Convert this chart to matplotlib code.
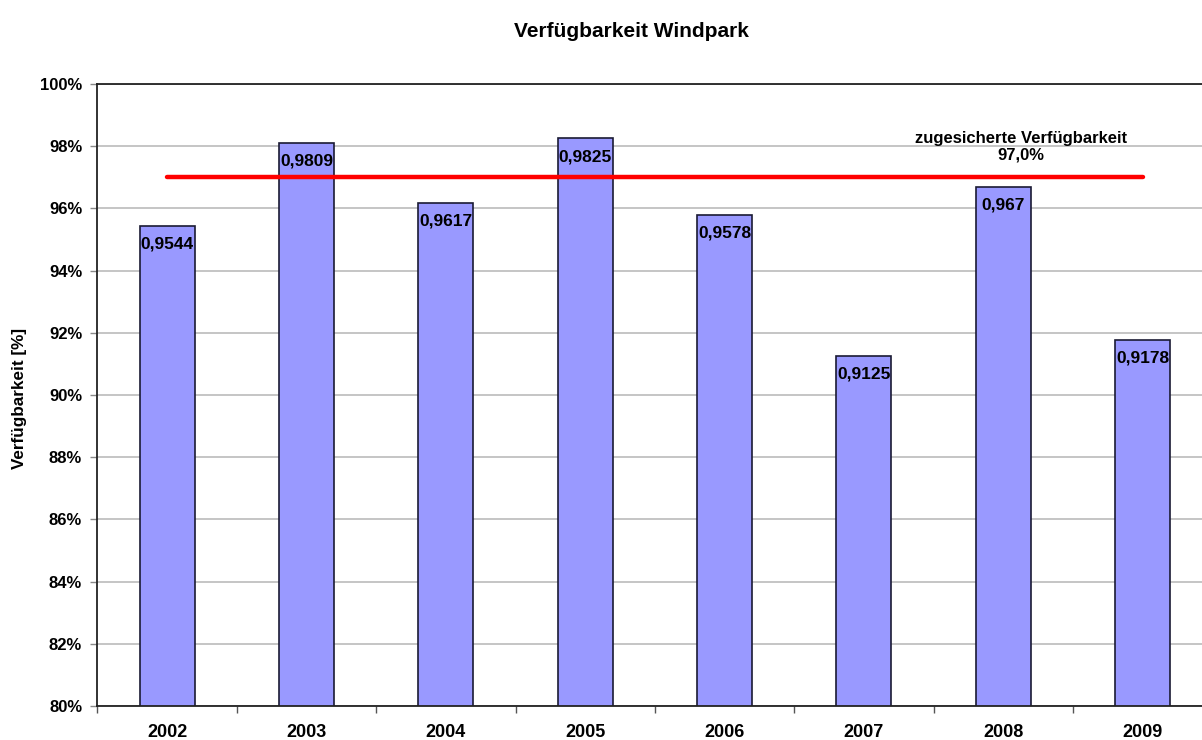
import matplotlib
matplotlib.use('Agg')
import matplotlib.pyplot as plt
import numpy as np
from matplotlib.ticker import FuncFormatter

plt.rcParams['font.family'] = ['Liberation Sans', 'DejaVu Sans']
plt.rcParams['font.weight'] = 'bold'

years = ['2002', '2003', '2004', '2005', '2006', '2007', '2008', '2009']
availability = [0.9544, 0.9809, 0.9617, 0.9825, 0.9578, 0.9125, 0.967, 0.9178]
labels = ['0,9544', '0,9809', '0,9617', '0,9825', '0,9578', '0,9125', '0,967', '0,9178']
target = 0.97

fig = plt.figure(figsize=(12.02, 7.40), dpi=100)
ax = fig.add_axes([0.0811, 0.0459, 0.9274, 0.8405])

x = np.arange(len(years))
ax.bar(x, availability, width=0.395, color='#9999FF', edgecolor='#1a1a33',
       linewidth=1.2, zorder=2)

# data labels just below the top of each bar
for xi, v, lab in zip(x, availability, labels):
    ax.text(xi, v - 0.0058, lab, ha='center', va='center', fontsize=12.5,
            fontweight='bold', color='black', zorder=4)

# guaranteed availability line
ax.plot([x[0], x[-1]], [target, target], color='#FF0000', linewidth=3.2,
        solid_capstyle='round', zorder=3)
ax.text(6.13, 0.9799, 'zugesicherte Verfügbarkeit\n97,0%', ha='center',
        va='center', fontsize=12, fontweight='bold', linespacing=1.1)

ax.set_xlim(-0.5, len(years) - 0.5)
ax.set_ylim(0.80, 1.00)
ax.set_yticks(np.arange(0.80, 1.0001, 0.02))
ax.yaxis.set_major_formatter(FuncFormatter(lambda v, p: f'{v*100:.0f}%'))
ax.set_xticks(x)
ax.set_xticklabels(years, fontsize=13, fontweight='bold')
ax.set_xticks(np.arange(-0.5, len(years), 1.0), minor=True)
ax.tick_params(axis='x', which='major', length=0, pad=13)
ax.tick_params(axis='x', which='minor', length=5, width=1, color='#555555')
ax.tick_params(axis='y', length=5, width=1, color='#888888', labelsize=12, pad=6)
for t in ax.get_yticklabels():
    t.set_fontweight('bold')

ax.grid(axis='y', color='#bbbbbb', linewidth=1.2, zorder=0)
ax.set_axisbelow(True)
for s in ax.spines.values():
    s.set_color('#222222')
    s.set_linewidth(1.3)

ax.set_ylabel('Verfügbarkeit [%]', fontsize=12.3, fontweight='bold')
ax.yaxis.set_label_coords(-0.063, 0.495)
fig.text(0.525, 0.958, 'Verfügbarkeit Windpark', ha='center', va='center',
         fontsize=15, fontweight='bold')

fig.savefig('out.png', dpi=100)
